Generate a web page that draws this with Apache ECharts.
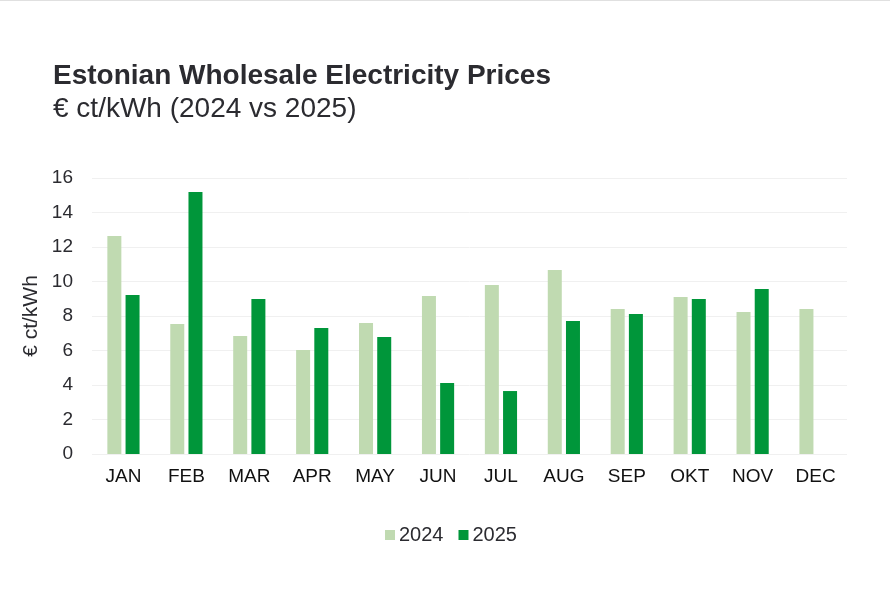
<!DOCTYPE html>
<html>
<head>
<meta charset="utf-8">
<script src="https://cdn.jsdelivr.net/npm/echarts@6/dist/echarts.min.js"></script>
<style>
html,body{margin:0;padding:0;background:#fff;}
#c{width:890px;height:594px;border-top:1px solid #e0e0e0;}
</style>
</head>
<body>
<div id="c"></div>
<script>
const months = ['JAN','FEB','MAR','APR','MAY','JUN','JUL','AUG','SEP','OKT','NOV','DEC'];
const prices2024 = [12.64, 7.54, 6.84, 6.03, 7.59, 9.16, 9.80, 10.67, 8.41, 9.10, 8.23, 8.41];
const prices2025 = [9.22, 15.19, 8.99, 7.30, 6.78, 4.12, 3.65, 7.71, 8.12, 8.99, 9.57, null];
const yTicks = [0, 2, 4, 6, 8, 10, 12, 14, 16];

const chart = echarts.init(document.getElementById('c'));
const font = "'Liberation Sans', Arial, sans-serif";
chart.setOption({
  animation: false,
  textStyle: {fontFamily: font},
  title: {
    text: 'Estonian Wholesale Electricity Prices',
    subtext: '€ ct/kWh (2024 vs 2025)',
    left: 48, top: 56,
    itemGap: 5,
    textStyle: {fontSize: 28, fontWeight: 'bold', color: '#2b2b30', fontFamily: font},
    subtextStyle: {fontSize: 28, color: '#2b2b30', fontFamily: font}
  },
  legend: {
    bottom: 45, left: 380,
    itemWidth: 10, itemHeight: 10, itemGap: 15,
    icon: 'rect',
    textStyle: {fontSize: 20, color: '#2b2b30', fontFamily: font, padding: [0, 0, 0, -1]},
    data: ['2024', '2025']
  },
  grid: {left: 92, right: 43, top: 177, bottom: 141, containLabel: false},
  xAxis: {
    type: 'category', data: months,
    axisLine: {show: false}, axisTick: {show: false},
    axisLabel: {fontSize: 19, color: '#111', margin: 13, fontFamily: font}
  },
  yAxis: {
    type: 'value', min: yTicks[0], max: yTicks[yTicks.length - 1], interval: 2,
    name: '€ ct/kWh', nameLocation: 'middle', nameGap: 50, nameRotate: 90,
    nameMoveOverlap: false,
    nameTextStyle: {fontSize: 21, color: '#2b2b30', fontFamily: font},
    axisLine: {show: false}, axisTick: {show: false},
    axisLabel: {fontSize: 19, color: '#2b2b30', margin: 19, fontFamily: font},
    splitLine: {lineStyle: {color: '#f0f0f0', width: 1}}
  },
  series: [
    {name: '2024', type: 'bar', data: prices2024, barWidth: 14, barGap: '30%',
     itemStyle: {color: '#c0dab1'}},
    {name: '2025', type: 'bar', data: prices2025, barWidth: 14,
     itemStyle: {color: '#00963a'}}
  ]
});
</script>
</body>
</html>
